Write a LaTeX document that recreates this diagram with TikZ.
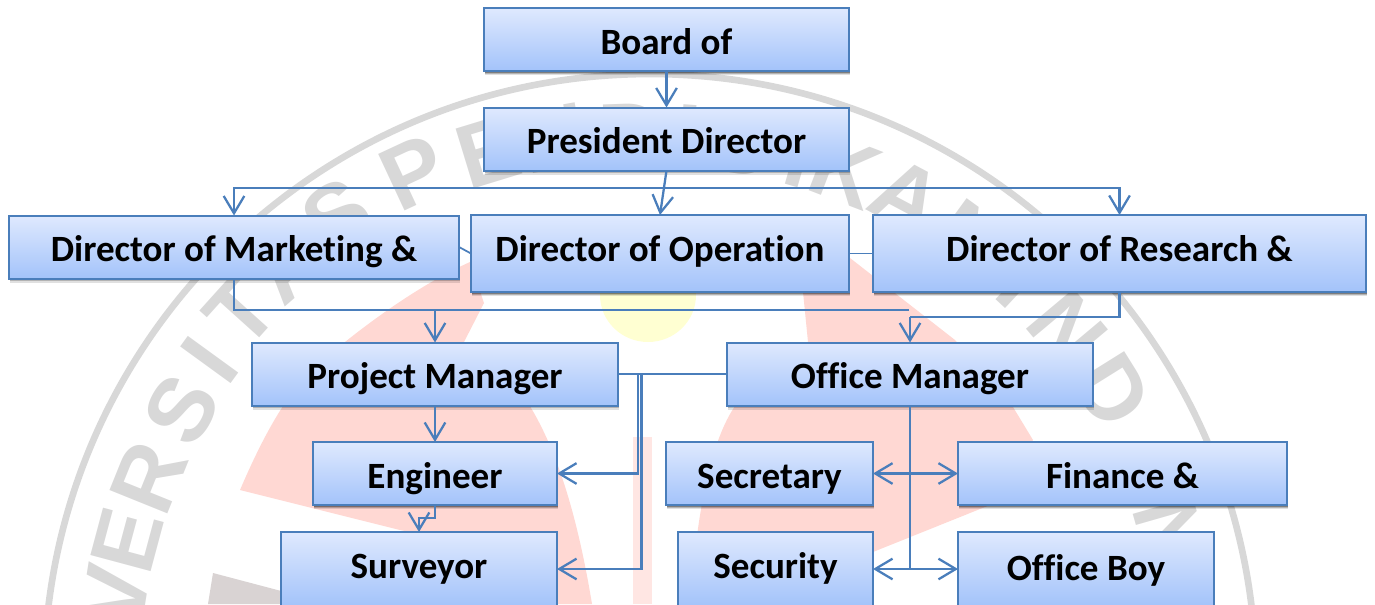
\documentclass[tikz,border=0pt]{standalone}
\usepackage{fontspec}
\setmainfont[Ligatures=NoCommon]{Carlito}
\newfontfamily\markfont{Liberation Sans}
\usetikzlibrary{arrows.meta,shadows}
\definecolor{linkblue}{HTML}{4A7EBB}
\definecolor{boxtop}{HTML}{DFE9FE}
\definecolor{boxbottom}{HTML}{A3C3FA}
\definecolor{markgray}{HTML}{D8D8D8}
\definecolor{markpink}{HTML}{FFD8D3}
\definecolor{markpale}{HTML}{FFE6E3}
\definecolor{markpatch}{HTML}{D9D3D3}
\definecolor{markyellow}{HTML}{FFFFD2}
\tikzset{
	orgbox/.style={draw=linkblue, line width=1.5pt, top color=boxtop, bottom color=boxbottom, inner sep=0pt, outer sep=0pt,
		minimum height=63*0.75pt, text height=36*0.75pt, text depth=7*0.75pt, font=\fontsize{27.8}{32}\selectfont\bfseries,
		drop shadow={shadow xshift=1pt, shadow yshift=-3.2pt, opacity=0.12, fill=black, draw=none},
		drop shadow={shadow xshift=0.8pt, shadow yshift=-2.2pt, opacity=0.2, fill=black, draw=none},
		drop shadow={shadow xshift=0.5pt, shadow yshift=-1.2pt, opacity=0.3, fill=black, draw=none}},
	wd/.style={minimum width=#1*0.75pt},
	tallbox/.style={minimum height=#1*0.75pt, text depth=(#1-56)*0.75pt},
	link/.style={draw=linkblue, line width=1.7pt},
	thinlink/.style={draw=linkblue, line width=1.3pt},
	arrowed/.style={-{Straight Barb[length=13pt,width=15.5pt]}},
	letter/.style={text=markgray, font=\fontsize{68}{68}\selectfont\markfont\bfseries, inner sep=0pt}
}
\begin{document}
\begin{tikzpicture}[x=0.75pt,y=-0.75pt]
	\useasboundingbox (0,0) rectangle (1375,604);
	\clip (0,0) rectangle (1375,604);

	\fill[markyellow] (648,295) ellipse (48 and 47);
	\fill[markpink] (240,490) .. controls (270,420) and (300,370) .. (345,342) .. controls (385,310) and (430,280) .. (470,262) -- (484,303) -- (464,342) .. controls (520,370) and (565,440) .. (592,604) -- (557,604) -- (557,562) -- (400,530) -- cycle;
	\fill[markpink] (850,258) -- (955,340) -- (1013,407) -- (1033,440) -- (990,505) -- (873,552) -- (780,604) -- (690,604) .. controls (695,540) and (705,450) .. (735,406) -- (808,342) -- (803,292) -- cycle;
	\fill[markpale] (633,437) rectangle (652,604);
	\fill[markpatch] (213,573) -- (285,592) -- (285,604) -- (208,604) -- cycle;
	\draw[markgray, line width=5pt] (650,680) circle (606);
	\foreach \ang/\rad/\ltr in {-93/541/N,-87/541/I,-81/541/V,-75/541/E,-68/541/R,-60/541/S,-54/544/I,-48/550/T,-41/552/A,-34/560/S,-25/560/P,-17/552/E,-10/550/N,-2/545/D,4/545/I,10/545/D,16/545/I,21/545/K,28/548/A,36/545/N,43/545/I,50/545/N,58/545/D,74/541/N}
		\node[letter, rotate=-\ang] (mark\ltr\ang) at ({650+\rad*sin(\ang)},{680-\rad*cos(\ang)}) {\ltr};

	\node[orgbox, wd=365] (board) at (666.5,39.5) {Board of};
	\node[orgbox, wd=365] (president) at (666.5,139) {President Director};
	\node[orgbox, wd=450] (marketing) at (234,247) {Director of Marketing \&};
	\node[orgbox, wd=378, tallbox=77] (operation) at (660,253.5) {Director of Operation};
	\node[orgbox, wd=493, tallbox=77] (research) at (1119.5,253.5) {Director of Research \&};
	\node[orgbox, wd=366] (project) at (435,374) {Project Manager};
	\node[orgbox, wd=366] (office) at (910,374) {Office Manager};
	\node[orgbox, wd=244] (engineer) at (435,473.5) {Engineer};
	\node[orgbox, wd=207] (secretary) at (769.5,473.5) {Secretary};
	\node[orgbox, wd=329] (finance) at (1122.5,473.5) {Finance \&};
	\node[orgbox, wd=276, tallbox=74] (surveyor) at (419,569) {Surveyor};
	\node[orgbox, wd=195, tallbox=74] (security) at (775.5,569) {Security};
	\node[orgbox, wd=256, tallbox=74, text depth=14*0.75pt] (officeboy) at (1086,569) {Office Boy};

	\coordinate (topbus) at (666,188);
	\coordinate (lowbus) at (435,310);
	\coordinate (lowend) at (909,310);
	\coordinate (officedrop) at (910,317);
	\coordinate (pmleft) at (638,374);
	\coordinate (pmright) at (641.5,374);
	\coordinate (jog) at (435,518);

	\draw[link, arrowed] (board.south) -- (president.north);
	\draw[link, arrowed] (president.south) -- (operation.north);
	\draw[link, arrowed] (topbus) -| (marketing.north);
	\draw[link, arrowed] (topbus) -| (research.north);
	\draw[thinlink] (marketing.east) -- (operation.west);
	\draw[thinlink] (operation.east) -- (research.west);

	\draw[link] (marketing.south) |- (lowbus);
	\draw[thinlink] (lowbus) -- (lowend);
	\draw[link, arrowed] (lowbus) -- (project.north);
	\draw[link] (research.south) |- (officedrop);
	\draw[link, arrowed] (officedrop) -- (office.north);

	\draw[thinlink] (project.east) -- (pmleft);
	\draw[link] (office.west) -- (pmleft);
	\draw[link, arrowed] (pmleft) |- (engineer.east);
	\draw[link, arrowed] (pmright) |- (surveyor.east);
	\draw[link, arrowed] (project.south) -- (engineer.north);
	\draw[link, arrowed] (engineer.south) |- (surveyor.north |- jog) -- (surveyor.north);

	\draw[link] (office.south) -- (office.south |- surveyor.center);
	\draw[link, {Straight Barb[length=13pt,width=15.5pt]}-{Straight Barb[length=13pt,width=15.5pt]}] (secretary.east) -- (finance.west);
	\draw[link, {Straight Barb[length=13pt,width=15.5pt]}-{Straight Barb[length=13pt,width=15.5pt]}] (security.east) -- (officeboy.west);
\end{tikzpicture}
\end{document}
